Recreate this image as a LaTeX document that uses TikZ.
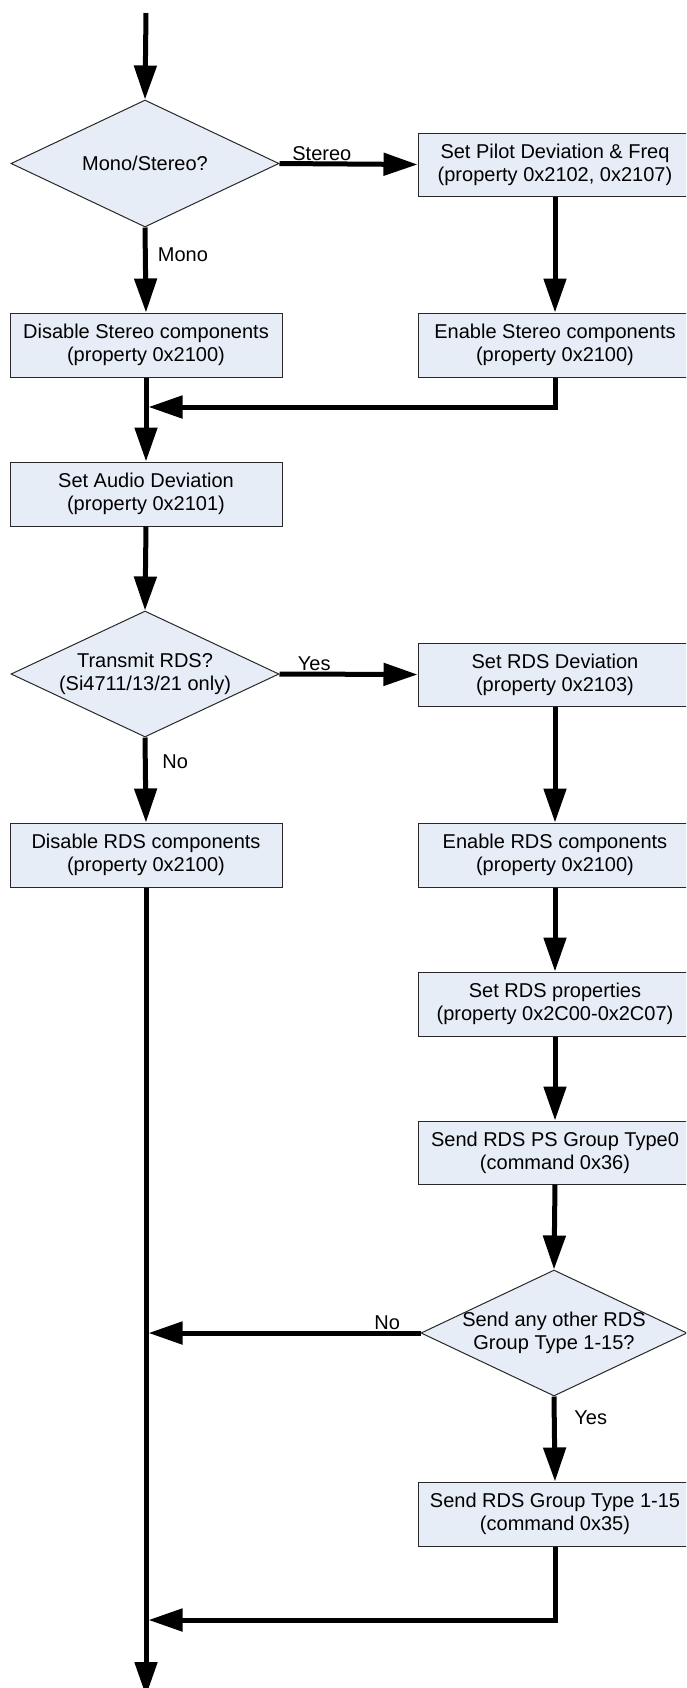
\documentclass[tikz,border=0pt]{standalone}
\usepackage{fontspec}
\setmainfont{Liberation Sans}
\usetikzlibrary{arrows.meta,shapes.geometric}
\definecolor{boxfill}{RGB}{231,237,247}
\definecolor{boxline}{RGB}{40,40,40}
\tikzset{
  txt/.style={font=\fontsize{10pt}{11.4pt}\selectfont},
  procbox/.style={txt,draw=boxline,line width=0.5pt,fill=boxfill,rectangle,
     minimum width=136pt,minimum height=32pt,inner sep=0pt,align=center},
  rprocbox/.style={procbox,minimum width=137pt},
  decide/.style={draw=boxline,line width=0.5pt,fill=boxfill,diamond,
     minimum width=134pt,minimum height=63.5pt,inner sep=0pt},
  dtext/.style={txt,align=center,inner sep=0pt},
  flow/.style={line width=2.5pt,-{Triangle[length=17pt,width=11pt]}},
  plainflow/.style={line width=2.5pt},
  elabel/.style={txt,inner sep=0pt,anchor=base west},
}
\begin{document}
\begin{tikzpicture}[x=0.5pt,y=-0.5pt]
\clip (0,0) rectangle (686,1688);
\fill[white] (0,0) rectangle (686,1688);

% nodes
\node[decide] (d1) at (145,163.5) {};
\node[dtext] (d1t) at (d1.center) {Mono/Stereo?};
\node[rprocbox,minimum height=31.5pt] (pilot) at (555,164.5) {Set Pilot Deviation \& Freq\\(property 0x2102, 0x2107)};
\node[procbox] (dst) at (146,345) {Disable Stereo components\\(property 0x2100)};
\node[rprocbox] (est) at (555,345) {Enable Stereo components\\(property 0x2100)};
\node[procbox] (aud) at (146,494) {Set Audio Deviation\\(property 0x2101)};
\node[decide,minimum height=63pt] (d2) at (145,674) {};
\node[dtext] (d2t) at (d2.center) {Transmit RDS?\\(Si4711/13/21 only)};
\node[rprocbox,minimum height=31.5pt] (rdsdev) at (555,674.5) {Set RDS Deviation\\(property 0x2103)};
\node[procbox] (drds) at (146,855) {Disable RDS components\\(property 0x2100)};
\node[rprocbox] (erds) at (555,855) {Enable RDS components\\(property 0x2100)};
\node[rprocbox] (rprop) at (555,1004) {Set RDS properties\\(property 0x2C00-0x2C07)};
\node[rprocbox,minimum height=31.5pt] (ps) at (555,1152.5) {Send RDS PS Group Type0\\(command 0x36)};
\node[decide,minimum height=63pt,minimum width=133pt] (d3) at (554,1333) {};
\node[dtext] (d3t) at (d3.center) {Send any other RDS\\Group Type 1-15?};
\node[rprocbox] (grp) at (555,1514) {Send RDS Group Type 1-15\\(command 0x35)};

% free ends
\coordinate (start) at (146,13);
\coordinate (j1) at (148.5,407);
\coordinate (j2) at (148.5,1333);
\coordinate (j3) at (148.5,1620);
\coordinate (finish) at (146,1696);

% connectors
\draw[flow] (start) -- (d1.north);
\draw[flow] (d1.east) -- (pilot.west);
\draw[flow] (d1.south) -- (dst.north);
\draw[flow] (pilot.south) -- (est.north);
\draw[flow] (est.south) |- (j1);
\draw[flow] (dst.south) -- (aud.north);
\draw[flow] (aud.south) -- (d2.north);
\draw[flow] (d2.east) -- (rdsdev.west);
\draw[flow] (d2.south) -- (drds.north);
\draw[flow] (rdsdev.south) -- (erds.north);
\draw[flow] (erds.south) -- (rprop.north);
\draw[flow] (rprop.south) -- (ps.north);
\draw[flow] (ps.south) -- (d3.north);
\draw[flow] (d3.west) -- (j2);
\draw[flow] (d3.south) -- (grp.north);
\draw[flow] (grp.south) |- (j3);
\draw[flow] (drds.south) -- (finish);

% edge labels
\node[elabel] (lstereo) at (292,160) {Stereo};
\node[elabel] (lmono) at (157.5,261) {Mono};
\node[elabel] (lyes1) at (297.5,670) {Yes};
\node[elabel] (lno1) at (162,768) {No};
\node[elabel] (lno2) at (374,1329) {No};
\node[elabel] (lyes2) at (574,1424) {Yes};
\end{tikzpicture}
\end{document}
